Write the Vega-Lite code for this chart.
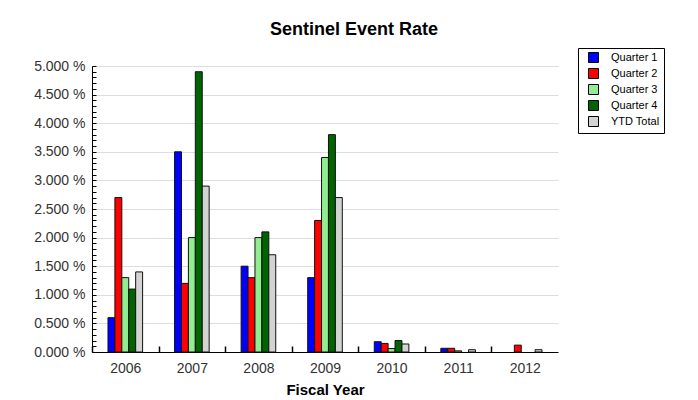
{
  "$schema": "https://vega.github.io/schema/vega-lite/v6.json",
  "autosize": "none",
  "width": 466,
  "height": 286,
  "padding": {"left": 92, "top": 66, "right": 140, "bottom": 48},
  "background": "white",
  "title": {
    "text": "Sentinel Event Rate",
    "font": "Liberation Sans",
    "fontSize": 18,
    "fontWeight": "bold",
    "color": "#000000",
    "offset": 9,
    "dx": 29
  },
  "data": {
    "values": [
      {"year": "2006", "series": "Quarter 1", "rate": 0.6},
      {"year": "2006", "series": "Quarter 2", "rate": 2.7},
      {"year": "2006", "series": "Quarter 3", "rate": 1.3},
      {"year": "2006", "series": "Quarter 4", "rate": 1.1},
      {"year": "2006", "series": "YTD Total", "rate": 1.4},
      {"year": "2007", "series": "Quarter 1", "rate": 3.5},
      {"year": "2007", "series": "Quarter 2", "rate": 1.2},
      {"year": "2007", "series": "Quarter 3", "rate": 2.0},
      {"year": "2007", "series": "Quarter 4", "rate": 4.9},
      {"year": "2007", "series": "YTD Total", "rate": 2.9},
      {"year": "2008", "series": "Quarter 1", "rate": 1.5},
      {"year": "2008", "series": "Quarter 2", "rate": 1.3},
      {"year": "2008", "series": "Quarter 3", "rate": 2.0},
      {"year": "2008", "series": "Quarter 4", "rate": 2.1},
      {"year": "2008", "series": "YTD Total", "rate": 1.7},
      {"year": "2009", "series": "Quarter 1", "rate": 1.3},
      {"year": "2009", "series": "Quarter 2", "rate": 2.3},
      {"year": "2009", "series": "Quarter 3", "rate": 3.4},
      {"year": "2009", "series": "Quarter 4", "rate": 3.8},
      {"year": "2009", "series": "YTD Total", "rate": 2.7},
      {"year": "2010", "series": "Quarter 1", "rate": 0.18},
      {"year": "2010", "series": "Quarter 2", "rate": 0.15},
      {"year": "2010", "series": "Quarter 3", "rate": 0.06},
      {"year": "2010", "series": "Quarter 4", "rate": 0.2},
      {"year": "2010", "series": "YTD Total", "rate": 0.14},
      {"year": "2011", "series": "Quarter 1", "rate": 0.065},
      {"year": "2011", "series": "Quarter 2", "rate": 0.065},
      {"year": "2011", "series": "Quarter 3", "rate": 0.02},
      {"year": "2011", "series": "YTD Total", "rate": 0.04},
      {"year": "2012", "series": "Quarter 2", "rate": 0.12},
      {"year": "2012", "series": "YTD Total", "rate": 0.04}
    ]
  },
  "mark": {"type": "bar", "stroke": "#111111", "strokeWidth": 1},
  "encoding": {
    "x": {
      "field": "year",
      "type": "nominal",
      "scale": {"domain": ["2006","2007","2008","2009","2010","2011","2012"], "paddingInner": 0.48, "paddingOuter": 0.24},
      "axis": {
        "title": "Fiscal Year",
        "titleFont": "Liberation Sans",
        "titleFontSize": 15,
        "titleFontWeight": "bold",
        "titleColor": "#000000",
        "titlePadding": 7,
        "labelAngle": 0,
        "labelFont": "Liberation Sans",
        "labelFontSize": 14,
        "labelColor": "#333333",
        "labelPadding": 15,
        "labelOffset": 33.3,
        "tickBand": "center",
        "tickOffset": -33.3,
        "tickSize": -6,
        "tickWidth": 1.5,
        "tickColor": "#000000",
        "domainColor": "#000000",
        "grid": false
      }
    },
    "xOffset": {
      "field": "series",
      "type": "nominal",
      "scale": {"domain": ["Quarter 1","Quarter 2","Quarter 3","Quarter 4","YTD Total"], "paddingInner": 0, "paddingOuter": 0}
    },
    "y": {
      "field": "rate",
      "type": "quantitative",
      "scale": {"domain": [0, 5], "nice": false},
      "axis": {
        "title": null,
        "values": [0,0.1,0.2,0.3,0.4,0.5,0.6,0.7,0.8,0.9,1.0,1.1,1.2,1.3,1.4,1.5,1.6,1.7,1.8,1.9,2.0,2.1,2.2,2.3,2.4,2.5,2.6,2.7,2.8,2.9,3.0,3.1,3.2,3.3,3.4,3.5,3.6,3.7,3.8,3.9,4.0,4.1,4.2,4.3,4.4,4.5,4.6,4.7,4.8,4.9,5.0],
        "labelExpr": "abs(datum.value*2 - round(datum.value*2)) < 0.001 ? format(datum.value, '.3f') + ' %' : ''",
        "labelFont": "Liberation Sans",
        "labelFontSize": 14,
        "labelColor": "#333333",
        "labelPadding": 11,
        "tickSize": -4,
        "tickColor": "#000000",
        "domainColor": "#000000",
        "grid": true,
        "gridColor": "#dddddd",
        "gridOpacity": {"condition": {"test": "abs(datum.value*2 - round(datum.value*2)) < 0.001 && datum.value > 0", "value": 1}, "value": 0}
      }
    },
    "color": {
      "field": "series",
      "type": "nominal",
      "scale": {
        "domain": ["Quarter 1","Quarter 2","Quarter 3","Quarter 4","YTD Total"],
        "range": ["#0000ff","#ff0000","#90ee90","#006400","#d3d3d3"]
      },
      "legend": {
        "title": null,
        "orient": "none",
        "legendX": 486,
        "legendY": -18,
        "symbolType": "square",
        "symbolSize": 100,
        "symbolStrokeColor": "#000000",
        "symbolStrokeWidth": 1,
        "symbolOpacity": 1,
        "symbolOffset": 6,
        "labelOffset": 12,
        "labelFont": "Liberation Sans",
        "labelFontSize": 11,
        "labelColor": "#000000",
        "rowPadding": 1,
        "padding": 4,
        "strokeColor": "#000000",
        "fillColor": "#ffffff",
        "labelLimit": 100
      }
    }
  },
  "config": {
    "view": {"stroke": null}
  }
}
